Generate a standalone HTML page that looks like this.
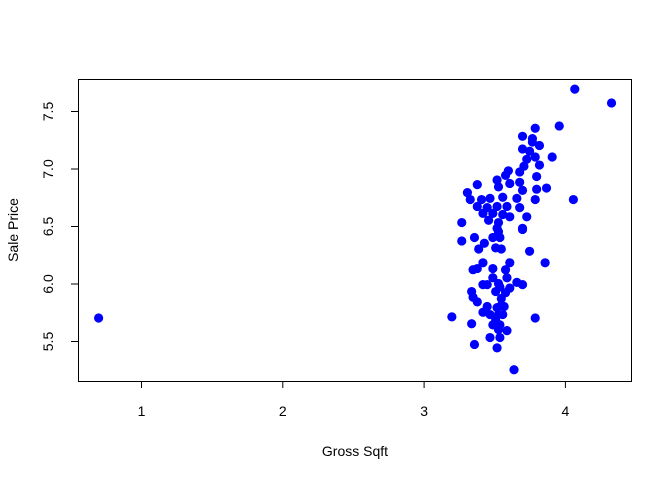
<!DOCTYPE html>
<html><head><meta charset="utf-8"><style>
body{margin:0;background:#fff}
svg{display:block;font-family:"Liberation Sans",Arial,sans-serif}
</style></head><body>
<svg id="chart" width="672" height="480">
<rect x="0" y="0" width="672" height="480" fill="#fff"/>
<rect x="78.5" y="79.5" width="553" height="302" fill="none" stroke="#000"/>
<g id="axes"></g>
<g id="points"></g>
<text x="355" y="456" text-anchor="middle" font-size="14">Gross Sqft</text>
<text transform="translate(18,230) rotate(-90)" text-anchor="middle" font-size="14">Sale Price</text>
</svg>
<script>
const xTicks=[1,2,3,4];
const yTicks=[5.5,6.0,6.5,7.0,7.5];
const xs=[4.07,4.33,3.96,3.79,3.70,3.77,3.77,3.82,3.70,3.75,3.79,3.91,3.73,3.82,3.71,3.60,3.68,3.58,3.80,3.52,3.61,3.68,3.38,3.53,3.70,3.80,3.87,3.31,3.33,3.41,3.47,3.56,3.66,3.79,4.06,3.38,3.45,3.52,3.59,3.68,3.42,3.49,3.56,3.61,3.73,3.46,3.53,3.27,3.70,3.52,
3.70,3.53,3.36,3.54,3.49,3.27,3.43,3.39,3.51,3.55,3.75,3.86,3.42,3.61,3.35,3.38,3.49,3.58,3.49,3.59,3.53,3.66,3.70,3.42,3.45,3.54,3.61,3.34,3.51,3.58,3.35,3.55,3.38,3.45,3.55,3.52,3.57,3.42,3.47,3.53,3.56,3.20,3.79,3.51,3.34,3.49,3.54,3.53,3.59,3.47,3.54,3.36,3.52,3.64,0.70];
const ys=[7.69,7.57,7.37,7.35,7.28,7.26,7.23,7.20,7.17,7.15,7.10,7.10,7.08,7.03,7.02,6.98,6.97,6.94,6.93,6.90,6.87,6.88,6.86,6.84,6.81,6.82,6.83,6.79,6.73,6.73,6.74,6.75,6.74,6.73,6.73,6.67,6.66,6.67,6.67,6.66,6.61,6.61,6.60,6.58,6.58,6.55,6.53,6.53,6.48,6.48,
6.47,6.45,6.40,6.40,6.40,6.37,6.35,6.30,6.31,6.30,6.28,6.18,6.18,6.18,6.12,6.13,6.13,6.12,6.05,6.05,6.00,6.01,5.99,5.99,5.99,5.97,5.96,5.93,5.93,5.92,5.88,5.87,5.84,5.80,5.81,5.79,5.80,5.75,5.73,5.73,5.73,5.71,5.70,5.68,5.65,5.64,5.64,5.60,5.59,5.53,5.53,5.47,5.44,5.25,5.70];
const NS="http://www.w3.org/2000/svg";
function xScale(v){return 141+(v-1)*141.3;}
function yScale(v){return 111+(7.5-v)*115;}
const axes=document.getElementById('axes');
function mk(tag,attrs,parent){const e=document.createElementNS(NS,tag);for(const k in attrs)e.setAttribute(k,attrs[k]);parent.appendChild(e);return e;}
xTicks.forEach(t=>{
  const x=xScale(t)+0.5;
  const l=mk('line',{x1:x,x2:x,y1:381,y2:388,stroke:'#000'},axes);
  
  
  const tx=mk('text',{x:x,y:416,'text-anchor':'middle','font-size':14},axes);
  tx.textContent=String(t);
  
  
});
mk('line',{x1:xScale(1)+0.5,x2:xScale(4)+0.5,y1:381.5,y2:381.5,stroke:'#000'},axes);
yTicks.forEach(t=>{
  const y=yScale(t)+0.5;
  const l=mk('line',{x1:71,x2:78,y1:y,y2:y,stroke:'#000'},axes);
  
  
  const tx=mk('text',{transform:'translate(53,'+y+') rotate(-90)','text-anchor':'middle','font-size':14},axes);
  tx.textContent=t.toFixed(1);
  
  
});
const pts=document.getElementById('points');
xs.forEach((v,i)=>{
  const c=mk('circle',{cx:xScale(v),cy:yScale(ys[i]),r:4.6,fill:'#0000ff'},pts);
  
  
});
</script>
</body></html>
